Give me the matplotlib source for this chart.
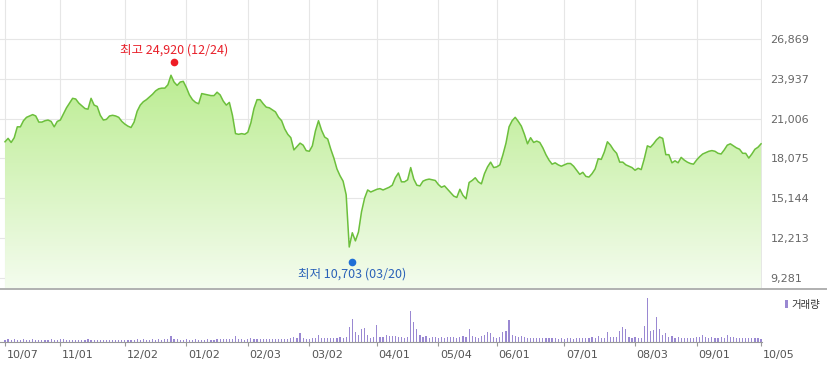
import numpy as np
import pandas as pd
import matplotlib.pyplot as plt
from matplotlib.patches import Rectangle
from matplotlib.colors import to_rgb
import matplotlib.transforms as mtransforms

# trading calendar (KRX) 2019-10-07 .. 2020-10-05
holidays = ['2019-10-09', '2019-12-25', '2019-12-31', '2020-01-01', '2020-01-24',
            '2020-01-27', '2020-04-15', '2020-04-30', '2020-05-01', '2020-05-05',
            '2020-08-17', '2020-09-30', '2020-10-01', '2020-10-02']
days = pd.bdate_range('2019-10-07', '2020-10-05')
days = days[~days.isin(pd.to_datetime(holidays))]

# daily close (KRW)
price = [
    19300, 19550, 19250, 19600, 20400, 20400, 20850, 21100, 21200, 21300,
    21200, 20750, 20750, 20850, 20900, 20800, 20400, 20800, 20900, 21350,
    21800, 22150, 22500, 22450, 22150, 21950, 21750, 21700, 22500, 22000,
    21900, 21250, 20900, 20950, 21200, 21250, 21200, 21100, 20800, 20600,
    20450, 20350, 20750, 21550, 22000, 22250, 22400, 22600, 22800, 23050,
    23200, 23250, 23250, 23500, 24200, 23700, 23450, 23700, 23750, 23300,
    22750, 22400, 22200, 22100, 22850, 22800, 22750, 22700, 22700, 22950,
    22750, 22300, 22000, 22200, 21250, 19900, 19850, 19900, 19850, 20000,
    20700, 21750, 22400, 22400, 22100, 21850, 21800, 21650, 21500, 21100,
    20850, 20250, 19850, 19600, 18700, 18950, 19200, 19050, 18650, 18600,
    19000, 20100, 20850, 20150, 19650, 19500, 18750, 18100, 17300, 16800,
    16400, 15400, 11550, 12600, 12000, 12650, 14150, 15150, 15750, 15600,
    15700, 15800, 15850, 15750, 15850, 15950, 16100, 16650, 17000, 16350,
    16350, 16500, 17400, 16550, 16100, 16050, 16400, 16500, 16550, 16500,
    16450, 16150, 15950, 16050, 15800, 15550, 15300, 15200, 15800, 15350,
    15100, 16300, 16450, 16650, 16350, 16200, 16950, 17450, 17800, 17400,
    17450, 17600, 18350, 19200, 20400, 20850, 21100, 20800, 20450, 19850,
    19150, 19600, 19250, 19350, 19250, 18850, 18350, 17950, 17650, 17750,
    17600, 17500, 17600, 17700, 17700, 17500, 17200, 16900, 17050, 16750,
    16700, 16950, 17300, 18050, 18000, 18550, 19300, 19050, 18700, 18450,
    17800, 17800, 17600, 17500, 17400, 17200, 17350, 17250, 18050, 19000,
    18900, 19150, 19450, 19650, 19550, 18350, 18350, 17750, 17900, 17750,
    18150, 17950, 17800, 17700, 17650, 17950, 18200, 18400, 18500, 18600,
    18650, 18600, 18450, 18400, 18700, 19050, 19150, 19000, 18850, 18750,
    18450, 18450, 18100, 18400, 18750, 18900, 19150,
]

# daily volume (100k shares)
volume = [
    2.5, 3.0, 2.3, 2.7, 2.2, 2.5, 2.8, 2.3, 2.2, 2.6, 2.4, 2.3, 2.5, 2.2, 2.4, 2.6, 2.3, 2.2, 2.8,
    3.0, 2.5, 2.4, 2.3, 2.2, 2.5, 2.3, 2.2, 2.6, 2.4, 2.2, 2.3, 2.2, 2.1, 2.4, 2.2, 2.3, 2.5, 2.2, 2.3,
    2.4, 2.2, 2.5, 2.3, 2.6, 2.4, 2.8, 2.5, 2.3, 2.6, 2.4, 2.8, 2.5, 3.0, 3.2, 5.7, 3.0, 2.6, 2.4, 2.3,
    2.8, 2.5, 2.4, 2.6, 2.3, 2.5, 2.4, 2.7, 2.3, 2.5, 2.6, 2.8, 3.0, 2.8, 3.0, 3.5, 5.7, 3.2, 2.6, 2.5,
    3.0, 3.6, 3.2, 2.8, 3.0, 3.3, 2.8, 2.6, 3.0, 2.8, 2.7, 3.0, 3.3, 3.5, 4.0, 5.0, 3.8, 9.0, 4.5, 3.5,
    3.5, 4.2, 3.8, 6.7, 4.0, 3.6, 4.5, 4.0, 3.8, 4.2, 5.0, 4.5, 4.8, 15.0, 22.7, 10.0, 7.0, 12.7, 14.0,
    7.0, 4.0, 5.0,
    16.7, 5.0, 5.5, 6.7, 5.8, 6.0, 6.5, 5.5, 5.0, 4.5, 5.0, 30.7, 20.0, 13.3, 6.7, 5.5, 6.0, 4.5, 5.0, 5.5,
    4.5, 5.0, 4.0, 4.8, 5.5, 5.0, 4.5, 5.0, 6.0, 5.5, 12.7, 6.0, 5.0, 4.5, 6.5, 7.5, 10.0, 9.3, 5.0,
    4.5, 5.5, 10.0, 10.7, 21.7, 7.0, 6.0, 5.5, 6.0, 5.0, 4.5, 4.0, 4.0, 3.8, 4.2, 4.0, 4.5, 3.8, 4.0,
    4.2, 3.5, 3.8,
    3.5, 3.8, 4.0, 3.5, 4.2, 4.0, 3.8, 4.5, 4.0, 5.0, 4.5, 6.0, 4.5, 4.0, 10.0, 5.5, 4.8, 5.0, 10.7,
    15.0, 12.7, 5.5, 4.5,
    5.0, 4.0, 4.5, 16.0, 44.0, 10.7, 11.7, 25.0, 13.3, 7.3, 9.3, 5.5, 6.0, 4.5, 5.0, 4.0, 4.5, 4.2, 4.0, 4.5,
    5.0, 5.5, 6.7, 5.0, 4.5, 4.8, 4.0, 4.5, 5.0, 4.2, 7.3, 5.5, 5.0, 4.5, 4.0, 4.5, 3.8, 4.2, 4.0, 3.8, 4.0,
    3.5,
]

y_ticks = [9281, 12213, 15144, 18075, 21006, 23937, 26869]
tick_dates = ['2019-10-07', '2019-11-01', '2019-12-02', '2020-01-02', '2020-02-03',
              '2020-03-02', '2020-04-01', '2020-05-04', '2020-06-01', '2020-07-01',
              '2020-08-03', '2020-09-01', '2020-10-05']
high_date, high_val = '2019-12-24', 24920
low_date, low_val = '2020-03-20', 10703

x = np.arange(len(price))
tick_pos = [days.get_loc(pd.Timestamp(d)) for d in tick_dates]
tick_lab = [pd.Timestamp(d).strftime('%m/%d') for d in tick_dates]
kr = ['Noto Sans CJK KR', 'DejaVu Sans']

W, H = 827, 375
fig = plt.figure(figsize=(W / 100, H / 100), dpi=100)
xlim = (-1.63, 246.3)

# ---- price panel
ax = fig.add_axes([0, (H - 288) / H, 762 / W, 288 / H])
ylo, yhi = 8530, 29741
poly = ax.fill_between(x, price, ylo, color='none', lw=0)
top_c, bot_c = np.array(to_rgb('#b9ec8e')), np.array(to_rgb('#f4fcee'))
t = np.linspace(0, 1, 256)[:, None]
grad = (top_c * (1 - t) + bot_c * t)[:, None, :]
img = ax.imshow(grad, extent=[xlim[0], xlim[1], ylo, 24900], aspect='auto', zorder=1)
img.set_clip_path(poly.get_paths()[0], transform=ax.transData)
ax.plot(x, price, color='#6cbf3c', lw=1.1, zorder=3)

ax.set_xlim(*xlim)
ax.set_ylim(ylo, yhi)
ax.set_xticks(tick_pos)
ax.set_yticks(y_ticks)
ax.set_yticklabels([f'{v:,}' for v in y_ticks])
ax.yaxis.tick_right()
ax.tick_params(axis='y', length=0, pad=6, labelsize=8, labelcolor='#666666')
ax.tick_params(axis='x', length=0, labelbottom=False)
ax.grid(True, color='#e6e6e6', lw=0.8)
ax.set_axisbelow(True)
for s in ax.spines.values():
    s.set_visible(False)

# high / low markers
i_hi = days.get_loc(pd.Timestamp(high_date))
i_lo = days.get_loc(pd.Timestamp(low_date))
up = mtransforms.offset_copy(ax.transData, fig=fig, x=0, y=2.5, units='points')
dn = mtransforms.offset_copy(ax.transData, fig=fig, x=0, y=-2.5, units='points')
ax.plot(i_hi, high_val, 'o', ms=5.5, color='#ee1c25', mec='none', transform=up, zorder=4)
ax.plot(i_lo, low_val, 'o', ms=5.5, color='#1f6fd6', mec='none', transform=dn, zorder=4)
ax.annotate(f'최고 {high_val:,} ({pd.Timestamp(high_date):%m/%d})', (i_hi, high_val),
            xytext=(0, 11.2), textcoords='offset points', ha='center', va='center',
            fontsize=9, color='#e8202a', family=kr)
ax.annotate(f'최저 {low_val:,} ({pd.Timestamp(low_date):%m/%d})', (i_lo, low_val),
            xytext=(0, -11.2), textcoords='offset points', ha='center', va='center',
            fontsize=9, color='#2a62b8', family=kr)

# separator line under price panel
fig.add_artist(plt.Line2D([0, 1], [(H - 289) / H] * 2, transform=fig.transFigure,
                          color='#b0b0b0', lw=1.4))

# ---- volume panel
av = fig.add_axes([0, (H - 342) / H, 762 / W, 52 / H])
av.bar(x, volume, width=0.38, color='#9a88d2', lw=0)
av.set_xlim(*xlim)
av.set_ylim(0, 52)
av.set_yticks([])
av.set_xticks(tick_pos)
av.set_xticklabels(tick_lab, ha='left')
av.tick_params(axis='x', length=3, width=0.8, color='#999999', pad=3,
               labelsize=8, labelcolor='#555555')
for lab in av.get_xticklabels():
    lab.set_transform(lab.get_transform() + mtransforms.ScaledTranslation(1.5 / 100, 0, fig.dpi_scale_trans))
for k in ['top', 'left', 'right']:
    av.spines[k].set_visible(False)
av.spines['bottom'].set_color('#999999')
av.spines['bottom'].set_linewidth(0.8)
av.patch.set_alpha(0)

# volume legend
fig.add_artist(Rectangle((785 / W, (H - 308) / H), 3 / W, 8 / H, transform=fig.transFigure,
                         color='#9a88d2', lw=0))
fig.text(791 / W, (H - 305) / H, '거래량', fontsize=7.5, color='#333333', va='center',
         family=kr)

fig.savefig('out.png', dpi=100)
